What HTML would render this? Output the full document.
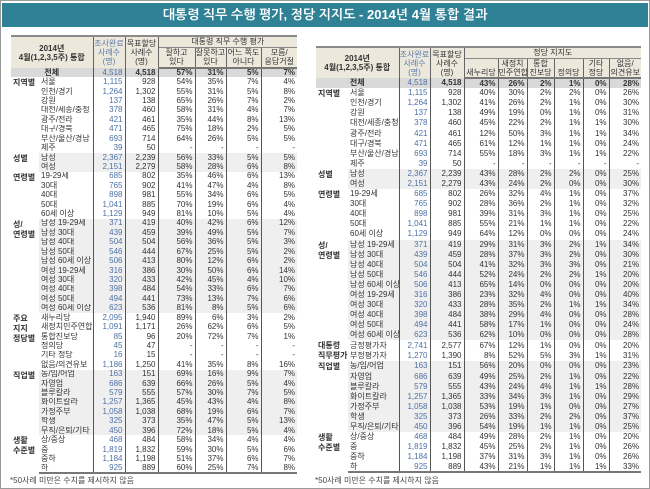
<!DOCTYPE html>
<html><head><meta charset="utf-8">
<style>
*{margin:0;padding:0;box-sizing:border-box}
html,body{width:650px;height:489px;overflow:hidden;background:#fff}
body{position:relative;font-family:"Liberation Sans","Noto Sans CJK KR",sans-serif;color:#333;border:1px solid #9a9a9a}
.title{position:absolute;left:1px;top:2px;width:646px;height:24px;background:#2f8196;color:#fff;font-weight:bold;font-size:13px;line-height:24px;text-align:center;font-family:"Liberation Sans","NanumGothic","Noto Sans CJK KR",sans-serif}
table{position:absolute;border-collapse:collapse;table-layout:fixed;font-size:8px}
td,th{padding:0 2px 0 0;white-space:nowrap;overflow:hidden;line-height:8px}
th{background:#ece8dc;font-weight:normal;text-align:center;border-left:1px solid #666;line-height:9px;padding:0;color:#333}
th.f{border-left:none;font-weight:bold;font-size:8px}
th.bl{color:#5a7bab}
thead tr:first-child th{border-top:2px solid #8a8a8a}
thead tr.h2 th{border-top:1px solid #888}
thead tr.last th{border-bottom:2px solid #777}
td{text-align:right;border-left:1px solid #555}
td.c{border-left:none;text-align:left;vertical-align:top;font-weight:bold;padding:1px 0 0 2px;line-height:10px;background:#fff;white-space:normal}
td.i{border-left:none;text-align:left;padding-left:2px}
td.b{color:#4d71a5}
tr.g td:not(.c){background:#efefef}
tr.t td{background:#d9d9d9;font-weight:bold}
tr.t td.i{text-align:center}
tr.t td.b{font-weight:normal}
tbody tr:last-child td{border-bottom:2px solid #777}
.note{position:absolute;top:474px;font-size:8px;color:#444}
</style></head><body>
<div class="title">대통령 직무 수행 평가, 정당 지지도 - 2014년 4월 통합 결과</div>

<table style="left:10px;top:34px;width:286px">
<colgroup><col style="width:28px"><col style="width:54px"><col style="width:32px"><col style="width:33px"><col style="width:37px"><col style="width:31px"><col style="width:35px"><col style="width:36px"></colgroup>
<thead>
<tr style="height:11px"><th class="f" colspan="2" rowspan="2">2014년<br>4월(1,2,3,5주) 통합</th><th class="bl" rowspan="2">조사완료<br>사례수<br>(명)</th><th rowspan="2">목표할당<br>사례수<br>(명)</th><th colspan="4">대통령 직무 수행 평가</th></tr>
<tr class="h2 last" style="height:21px"><th>잘하고<br>있다</th><th>잘못하고<br>있다</th><th>어느 쪽도<br>아니다</th><th>모름/<br>응답거절</th></tr>
</thead>
<tbody>
<tr class="t" style="height:9.43px"><td class="i" colspan="2">전체</td><td class="b">4,518</td><td>4,518</td><td>57%</td><td>31%</td><td>5%</td><td>7%</td></tr>
<tr style="height:9.43px"><td class="c" rowspan="8">지역별</td><td class="i">서울</td><td class="b">1,115</td><td>928</td><td>54%</td><td>35%</td><td>7%</td><td>4%</td></tr>
<tr style="height:9.43px"><td class="i">인천/경기</td><td class="b">1,264</td><td>1,302</td><td>55%</td><td>31%</td><td>5%</td><td>8%</td></tr>
<tr style="height:9.43px"><td class="i">강원</td><td class="b">137</td><td>138</td><td>65%</td><td>26%</td><td>7%</td><td>2%</td></tr>
<tr style="height:9.43px"><td class="i">대전/세종/충청</td><td class="b">378</td><td>460</td><td>58%</td><td>31%</td><td>4%</td><td>7%</td></tr>
<tr style="height:9.43px"><td class="i">광주/전라</td><td class="b">421</td><td>461</td><td>35%</td><td>44%</td><td>8%</td><td>13%</td></tr>
<tr style="height:9.43px"><td class="i">대구/경북</td><td class="b">471</td><td>465</td><td>75%</td><td>18%</td><td>2%</td><td>5%</td></tr>
<tr style="height:9.43px"><td class="i">부산/울산/경남</td><td class="b">693</td><td>714</td><td>64%</td><td>26%</td><td>5%</td><td>5%</td></tr>
<tr style="height:9.43px"><td class="i">제주</td><td class="b">39</td><td>50</td><td>-</td><td>-</td><td>-</td><td>-</td></tr>
<tr class="g" style="height:9.43px"><td class="c" rowspan="2">성별</td><td class="i">남성</td><td class="b">2,367</td><td>2,239</td><td>56%</td><td>33%</td><td>5%</td><td>5%</td></tr>
<tr class="g" style="height:9.43px"><td class="i">여성</td><td class="b">2,151</td><td>2,279</td><td>58%</td><td>28%</td><td>6%</td><td>8%</td></tr>
<tr style="height:9.43px"><td class="c" rowspan="5">연령별</td><td class="i">19-29세</td><td class="b">685</td><td>802</td><td>35%</td><td>46%</td><td>6%</td><td>13%</td></tr>
<tr style="height:9.43px"><td class="i">30대</td><td class="b">765</td><td>902</td><td>41%</td><td>47%</td><td>4%</td><td>8%</td></tr>
<tr style="height:9.43px"><td class="i">40대</td><td class="b">898</td><td>981</td><td>55%</td><td>34%</td><td>6%</td><td>5%</td></tr>
<tr style="height:9.43px"><td class="i">50대</td><td class="b">1,041</td><td>885</td><td>70%</td><td>19%</td><td>6%</td><td>4%</td></tr>
<tr style="height:9.43px"><td class="i">60세 이상</td><td class="b">1,129</td><td>949</td><td>81%</td><td>10%</td><td>5%</td><td>4%</td></tr>
<tr class="g" style="height:9.43px"><td class="c" rowspan="10">성/<br>연령별</td><td class="i">남성 19-29세</td><td class="b">371</td><td>419</td><td>40%</td><td>42%</td><td>6%</td><td>12%</td></tr>
<tr class="g" style="height:9.43px"><td class="i">남성 30대</td><td class="b">439</td><td>459</td><td>39%</td><td>49%</td><td>5%</td><td>7%</td></tr>
<tr class="g" style="height:9.43px"><td class="i">남성 40대</td><td class="b">504</td><td>504</td><td>56%</td><td>36%</td><td>5%</td><td>3%</td></tr>
<tr class="g" style="height:9.43px"><td class="i">남성 50대</td><td class="b">546</td><td>444</td><td>67%</td><td>25%</td><td>5%</td><td>2%</td></tr>
<tr class="g" style="height:9.43px"><td class="i">남성 60세 이상</td><td class="b">506</td><td>413</td><td>80%</td><td>12%</td><td>6%</td><td>2%</td></tr>
<tr class="g" style="height:9.43px"><td class="i">여성 19-29세</td><td class="b">316</td><td>386</td><td>30%</td><td>50%</td><td>6%</td><td>14%</td></tr>
<tr class="g" style="height:9.43px"><td class="i">여성 30대</td><td class="b">320</td><td>433</td><td>42%</td><td>45%</td><td>4%</td><td>10%</td></tr>
<tr class="g" style="height:9.43px"><td class="i">여성 40대</td><td class="b">398</td><td>484</td><td>54%</td><td>33%</td><td>6%</td><td>7%</td></tr>
<tr class="g" style="height:9.43px"><td class="i">여성 50대</td><td class="b">494</td><td>441</td><td>73%</td><td>13%</td><td>7%</td><td>6%</td></tr>
<tr class="g" style="height:9.43px"><td class="i">여성 60세 이상</td><td class="b">623</td><td>536</td><td>81%</td><td>8%</td><td>5%</td><td>6%</td></tr>
<tr style="height:9.43px"><td class="c" rowspan="6">주요<br>지지<br>정당별</td><td class="i">새누리당</td><td class="b">2,095</td><td>1,940</td><td>89%</td><td>6%</td><td>3%</td><td>2%</td></tr>
<tr style="height:9.43px"><td class="i">새정치민주연합</td><td class="b">1,091</td><td>1,171</td><td>26%</td><td>62%</td><td>6%</td><td>5%</td></tr>
<tr style="height:9.43px"><td class="i">통합진보당</td><td class="b">85</td><td>96</td><td>20%</td><td>72%</td><td>7%</td><td>1%</td></tr>
<tr style="height:9.43px"><td class="i">정의당</td><td class="b">45</td><td>47</td><td>-</td><td>-</td><td>-</td><td>-</td></tr>
<tr style="height:9.43px"><td class="i">기타 정당</td><td class="b">16</td><td>15</td><td>-</td><td>-</td><td>-</td><td>-</td></tr>
<tr style="height:9.43px"><td class="i">없음/의견유보</td><td class="b">1,186</td><td>1,250</td><td>41%</td><td>35%</td><td>8%</td><td>16%</td></tr>
<tr class="g" style="height:9.43px"><td class="c" rowspan="7">직업별</td><td class="i">농/임/어업</td><td class="b">163</td><td>151</td><td>69%</td><td>16%</td><td>9%</td><td>7%</td></tr>
<tr class="g" style="height:9.43px"><td class="i">자영업</td><td class="b">686</td><td>639</td><td>66%</td><td>26%</td><td>5%</td><td>4%</td></tr>
<tr class="g" style="height:9.43px"><td class="i">블루칼라</td><td class="b">579</td><td>555</td><td>57%</td><td>30%</td><td>7%</td><td>5%</td></tr>
<tr class="g" style="height:9.43px"><td class="i">화이트칼라</td><td class="b">1,257</td><td>1,365</td><td>45%</td><td>43%</td><td>4%</td><td>8%</td></tr>
<tr class="g" style="height:9.43px"><td class="i">가정주부</td><td class="b">1,058</td><td>1,038</td><td>68%</td><td>19%</td><td>6%</td><td>7%</td></tr>
<tr class="g" style="height:9.43px"><td class="i">학생</td><td class="b">325</td><td>373</td><td>35%</td><td>47%</td><td>5%</td><td>13%</td></tr>
<tr class="g" style="height:9.43px"><td class="i">무직/은퇴/기타</td><td class="b">450</td><td>396</td><td>72%</td><td>18%</td><td>5%</td><td>4%</td></tr>
<tr style="height:9.43px"><td class="c" rowspan="4">생활<br>수준별</td><td class="i">상/중상</td><td class="b">468</td><td>484</td><td>58%</td><td>34%</td><td>4%</td><td>4%</td></tr>
<tr style="height:9.43px"><td class="i">중</td><td class="b">1,819</td><td>1,832</td><td>59%</td><td>30%</td><td>5%</td><td>6%</td></tr>
<tr style="height:9.43px"><td class="i">중하</td><td class="b">1,184</td><td>1,198</td><td>51%</td><td>37%</td><td>6%</td><td>7%</td></tr>
<tr style="height:9.43px"><td class="i">하</td><td class="b">925</td><td>889</td><td>60%</td><td>25%</td><td>7%</td><td>8%</td></tr>
</tbody></table>

<table style="left:315px;top:45px;width:325px">
<colgroup><col style="width:32px"><col style="width:51px"><col style="width:31px"><col style="width:34px"><col style="width:34px"><col style="width:29px"><col style="width:27px"><col style="width:29px"><col style="width:26px"><col style="width:32px"></colgroup>
<thead>
<tr style="height:11px"><th class="f" colspan="2" rowspan="2">2014년<br>4월(1,2,3,5주) 통합</th><th class="bl" rowspan="2">조사완료<br>사례수<br>(명)</th><th rowspan="2">목표할당<br>사례수<br>(명)</th><th colspan="6">정당 지지도</th></tr>
<tr class="h2 last" style="height:20px"><th style="vertical-align:bottom">새누리당</th><th>새정치<br>민주연합</th><th>통합<br>진보당</th><th style="vertical-align:bottom">정의당</th><th>기타<br>정당</th><th>없음/<br>의견유보</th></tr>
</thead>
<tbody>
<tr class="t" style="height:10.1px"><td class="i" colspan="2">전체</td><td class="b">4,518</td><td>4,518</td><td>43%</td><td>26%</td><td>2%</td><td>1%</td><td>0%</td><td>28%</td></tr>
<tr style="height:10.1px"><td class="c" rowspan="8">지역별</td><td class="i">서울</td><td class="b">1,115</td><td>928</td><td>40%</td><td>30%</td><td>2%</td><td>2%</td><td>0%</td><td>26%</td></tr>
<tr style="height:10.1px"><td class="i">인천/경기</td><td class="b">1,264</td><td>1,302</td><td>41%</td><td>26%</td><td>2%</td><td>1%</td><td>0%</td><td>30%</td></tr>
<tr style="height:10.1px"><td class="i">강원</td><td class="b">137</td><td>138</td><td>49%</td><td>19%</td><td>0%</td><td>1%</td><td>0%</td><td>31%</td></tr>
<tr style="height:10.1px"><td class="i">대전/세종/충청</td><td class="b">378</td><td>460</td><td>45%</td><td>22%</td><td>2%</td><td>1%</td><td>1%</td><td>30%</td></tr>
<tr style="height:10.1px"><td class="i">광주/전라</td><td class="b">421</td><td>461</td><td>12%</td><td>50%</td><td>3%</td><td>1%</td><td>1%</td><td>34%</td></tr>
<tr style="height:10.1px"><td class="i">대구/경북</td><td class="b">471</td><td>465</td><td>61%</td><td>12%</td><td>1%</td><td>1%</td><td>0%</td><td>24%</td></tr>
<tr style="height:10.1px"><td class="i">부산/울산/경남</td><td class="b">693</td><td>714</td><td>55%</td><td>18%</td><td>3%</td><td>1%</td><td>1%</td><td>22%</td></tr>
<tr style="height:10.1px"><td class="i">제주</td><td class="b">39</td><td>50</td><td>-</td><td>-</td><td>-</td><td>-</td><td>-</td><td>-</td></tr>
<tr class="g" style="height:10.1px"><td class="c" rowspan="2">성별</td><td class="i">남성</td><td class="b">2,367</td><td>2,239</td><td>43%</td><td>28%</td><td>2%</td><td>2%</td><td>0%</td><td>25%</td></tr>
<tr class="g" style="height:10.1px"><td class="i">여성</td><td class="b">2,151</td><td>2,279</td><td>43%</td><td>24%</td><td>2%</td><td>0%</td><td>0%</td><td>30%</td></tr>
<tr style="height:10.1px"><td class="c" rowspan="5">연령별</td><td class="i">19-29세</td><td class="b">685</td><td>802</td><td>26%</td><td>32%</td><td>4%</td><td>1%</td><td>0%</td><td>37%</td></tr>
<tr style="height:10.1px"><td class="i">30대</td><td class="b">765</td><td>902</td><td>28%</td><td>36%</td><td>2%</td><td>1%</td><td>0%</td><td>32%</td></tr>
<tr style="height:10.1px"><td class="i">40대</td><td class="b">898</td><td>981</td><td>39%</td><td>31%</td><td>3%</td><td>1%</td><td>0%</td><td>25%</td></tr>
<tr style="height:10.1px"><td class="i">50대</td><td class="b">1,041</td><td>885</td><td>55%</td><td>21%</td><td>1%</td><td>1%</td><td>0%</td><td>22%</td></tr>
<tr style="height:10.1px"><td class="i">60세 이상</td><td class="b">1,129</td><td>949</td><td>64%</td><td>12%</td><td>0%</td><td>0%</td><td>0%</td><td>24%</td></tr>
<tr class="g" style="height:10.1px"><td class="c" rowspan="10">성/<br>연령별</td><td class="i">남성 19-29세</td><td class="b">371</td><td>419</td><td>29%</td><td>31%</td><td>3%</td><td>2%</td><td>1%</td><td>34%</td></tr>
<tr class="g" style="height:10.1px"><td class="i">남성 30대</td><td class="b">439</td><td>459</td><td>28%</td><td>37%</td><td>3%</td><td>2%</td><td>0%</td><td>30%</td></tr>
<tr class="g" style="height:10.1px"><td class="i">남성 40대</td><td class="b">504</td><td>504</td><td>41%</td><td>32%</td><td>3%</td><td>3%</td><td>0%</td><td>21%</td></tr>
<tr class="g" style="height:10.1px"><td class="i">남성 50대</td><td class="b">546</td><td>444</td><td>52%</td><td>24%</td><td>2%</td><td>2%</td><td>1%</td><td>20%</td></tr>
<tr class="g" style="height:10.1px"><td class="i">남성 60세 이상</td><td class="b">506</td><td>413</td><td>65%</td><td>14%</td><td>0%</td><td>0%</td><td>0%</td><td>20%</td></tr>
<tr class="g" style="height:10.1px"><td class="i">여성 19-29세</td><td class="b">316</td><td>386</td><td>23%</td><td>32%</td><td>4%</td><td>0%</td><td>0%</td><td>40%</td></tr>
<tr class="g" style="height:10.1px"><td class="i">여성 30대</td><td class="b">320</td><td>433</td><td>28%</td><td>35%</td><td>2%</td><td>1%</td><td>1%</td><td>34%</td></tr>
<tr class="g" style="height:10.1px"><td class="i">여성 40대</td><td class="b">398</td><td>484</td><td>38%</td><td>29%</td><td>4%</td><td>0%</td><td>0%</td><td>28%</td></tr>
<tr class="g" style="height:10.1px"><td class="i">여성 50대</td><td class="b">494</td><td>441</td><td>58%</td><td>17%</td><td>1%</td><td>0%</td><td>0%</td><td>24%</td></tr>
<tr class="g" style="height:10.1px"><td class="i">여성 60세 이상</td><td class="b">623</td><td>536</td><td>62%</td><td>10%</td><td>0%</td><td>0%</td><td>0%</td><td>28%</td></tr>
<tr style="height:10.1px"><td class="c" rowspan="2">대통령<br>직무평가</td><td class="i">긍정평가자</td><td class="b">2,741</td><td>2,577</td><td>67%</td><td>12%</td><td>1%</td><td>0%</td><td>0%</td><td>20%</td></tr>
<tr style="height:10.1px"><td class="i">부정평가자</td><td class="b">1,270</td><td>1,390</td><td>8%</td><td>52%</td><td>5%</td><td>3%</td><td>1%</td><td>31%</td></tr>
<tr class="g" style="height:10.1px"><td class="c" rowspan="7">직업별</td><td class="i">농/임/어업</td><td class="b">163</td><td>151</td><td>56%</td><td>20%</td><td>0%</td><td>0%</td><td>0%</td><td>23%</td></tr>
<tr class="g" style="height:10.1px"><td class="i">자영업</td><td class="b">686</td><td>639</td><td>49%</td><td>25%</td><td>2%</td><td>1%</td><td>0%</td><td>22%</td></tr>
<tr class="g" style="height:10.1px"><td class="i">블루칼라</td><td class="b">579</td><td>555</td><td>43%</td><td>24%</td><td>4%</td><td>1%</td><td>1%</td><td>28%</td></tr>
<tr class="g" style="height:10.1px"><td class="i">화이트칼라</td><td class="b">1,257</td><td>1,365</td><td>33%</td><td>34%</td><td>3%</td><td>1%</td><td>0%</td><td>29%</td></tr>
<tr class="g" style="height:10.1px"><td class="i">가정주부</td><td class="b">1,058</td><td>1,038</td><td>53%</td><td>19%</td><td>1%</td><td>0%</td><td>0%</td><td>27%</td></tr>
<tr class="g" style="height:10.1px"><td class="i">학생</td><td class="b">325</td><td>373</td><td>26%</td><td>33%</td><td>2%</td><td>2%</td><td>0%</td><td>37%</td></tr>
<tr class="g" style="height:10.1px"><td class="i">무직/은퇴/기타</td><td class="b">450</td><td>396</td><td>54%</td><td>19%</td><td>1%</td><td>1%</td><td>0%</td><td>25%</td></tr>
<tr style="height:10.1px"><td class="c" rowspan="4">생활<br>수준별</td><td class="i">상/중상</td><td class="b">468</td><td>484</td><td>49%</td><td>28%</td><td>2%</td><td>1%</td><td>0%</td><td>20%</td></tr>
<tr style="height:10.1px"><td class="i">중</td><td class="b">1,819</td><td>1,832</td><td>45%</td><td>25%</td><td>2%</td><td>1%</td><td>0%</td><td>26%</td></tr>
<tr style="height:10.1px"><td class="i">중하</td><td class="b">1,184</td><td>1,198</td><td>37%</td><td>31%</td><td>3%</td><td>1%</td><td>0%</td><td>26%</td></tr>
<tr style="height:10.1px"><td class="i">하</td><td class="b">925</td><td>889</td><td>43%</td><td>21%</td><td>1%</td><td>1%</td><td>1%</td><td>33%</td></tr>
</tbody></table>

<div class="note" style="left:9px">*50사례 미만은 수치를 제시하지 않음</div>
<div class="note" style="left:314px">*50사례 미만은 수치를 제시하지 않음</div>
</body></html>
